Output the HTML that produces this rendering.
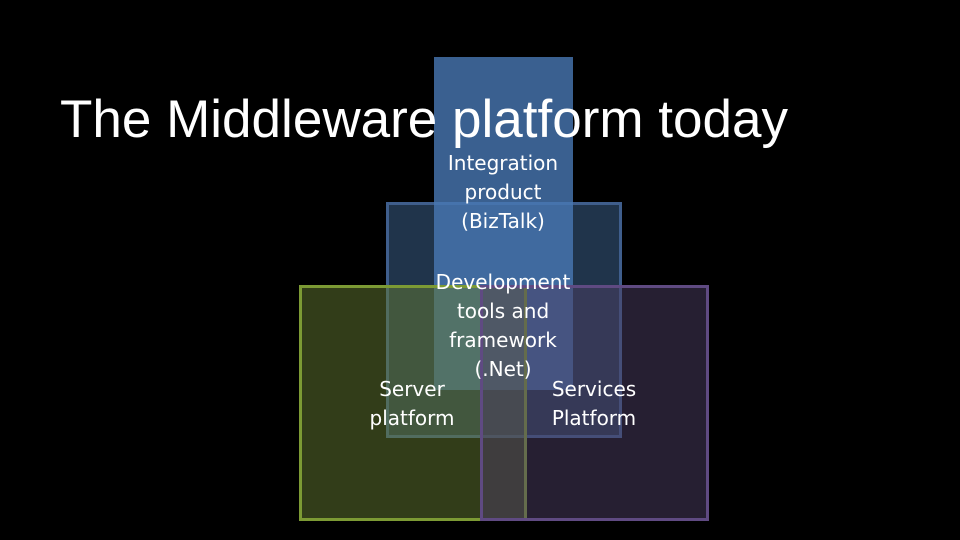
<!DOCTYPE html>
<html><head><meta charset="utf-8"><style>html,body{margin:0;padding:0;background:#000;}svg{display:block}</style></head>
<body>
<svg width="960" height="540" xmlns="http://www.w3.org/2000/svg" font-family="'Liberation Sans', sans-serif">
<rect width="960" height="540" fill="#000"/>
<rect x="387.5" y="203.5" width="233" height="233" fill="rgb(64,104,150)" fill-opacity="0.5" stroke="#3f5e8c" stroke-width="3"/>
<rect x="434" y="57" width="139" height="333" fill="rgb(72,120,180)" fill-opacity="0.8"/>
<rect x="300.5" y="286.5" width="225" height="233" fill="rgb(100,122,50)" fill-opacity="0.5" stroke="#7c9a34" stroke-width="3"/>
<rect x="481.5" y="286.5" width="226" height="233" fill="rgb(76,62,100)" fill-opacity="0.5" stroke="#5f4a82" stroke-width="3"/>
<text x="60" y="137" font-size="53" fill="#fff" textLength="728" lengthAdjust="spacingAndGlyphs">The Middleware platform today</text>
<g fill="#fff" font-size="20" text-anchor="middle" font-family="'DejaVu Sans', sans-serif">
<text x="503" y="170">Integration</text>
<text x="503" y="199">product</text>
<text x="503" y="228">(BizTalk)</text>
<text x="503" y="289">Development</text>
<text x="503" y="318">tools and</text>
<text x="503" y="347">framework</text>
<text x="503" y="376">(.Net)</text>
<text x="412" y="396">Server</text>
<text x="412" y="425">platform</text>
<text x="594" y="396">Services</text>
<text x="594" y="425">Platform</text>
</g>
</svg>
</body></html>
